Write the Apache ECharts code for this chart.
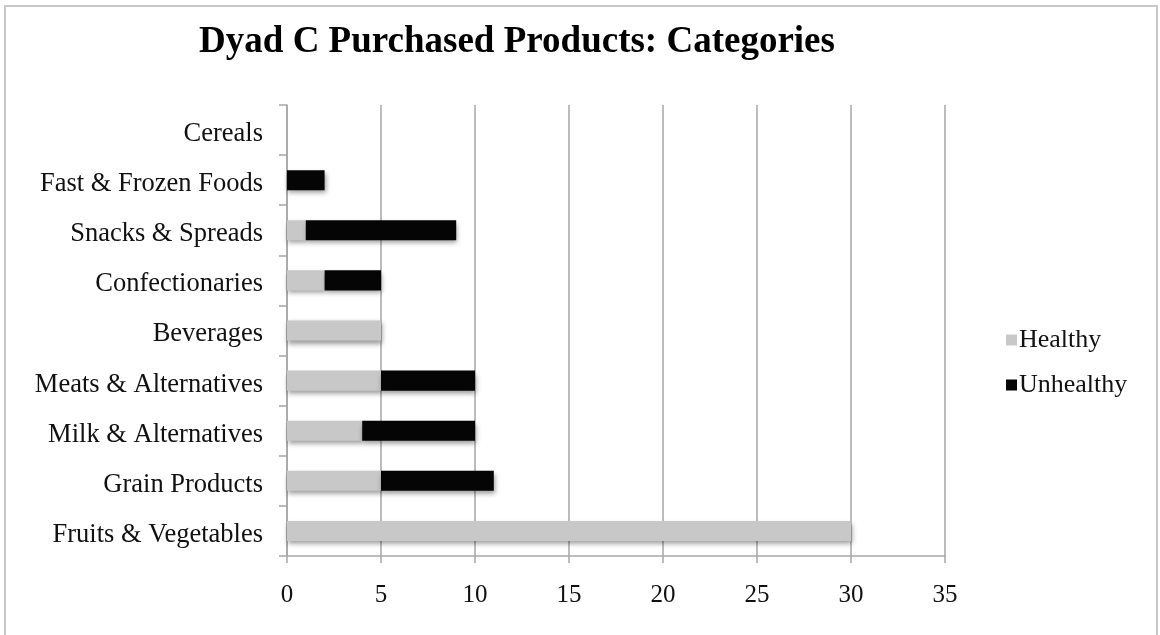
<!DOCTYPE html>
<html>
<head>
<meta charset="utf-8">
<script src="https://cdn.jsdelivr.net/npm/echarts@6/dist/echarts.min.js"></script>
<style>
  html, body { margin: 0; padding: 0; background: #fff; }
  #chart { width: 1160px; height: 635px; }
</style>
</head>
<body>
<div id="chart"></div>
<script>
// Product categories, listed bottom-to-top as they appear on the axis
const categories = [
  'Fruits & Vegetables', 'Grain Products', 'Milk & Alternatives',
  'Meats & Alternatives', 'Beverages', 'Confectionaries',
  'Snacks & Spreads', 'Fast & Frozen Foods', 'Cereals'
];
const healthy   = [30, 5, 4, 5, 5, 2, 1, 0, 0];
const unhealthy = [0, 6, 6, 5, 0, 3, 8, 2, 0];
const xTicks = [0, 5, 10, 15, 20, 25, 30, 35];

const serif = '"Liberation Serif", "DejaVu Serif", serif';
const shadow = {
  shadowBlur: 5, shadowOffsetX: 1, shadowOffsetY: 3,
  shadowColor: 'rgba(0,0,0,0.4)'
};

const chart = echarts.init(document.getElementById('chart'));
chart.setOption({
  animation: false,
  backgroundColor: '#fff',
  title: {
    text: 'Dyad C Purchased Products: Categories',
    left: 512, top: 19, textAlign: 'center',
    textStyle: { fontFamily: serif, fontSize: 37, fontWeight: 'bold', color: '#000' }
  },
  graphic: [{
    type: 'rect', silent: true,
    shape: { x: 5, y: 6, width: 1152, height: 640 },
    style: { fill: 'none', stroke: '#c8c8c8', lineWidth: 2 }
  }],
  legend: {
    orient: 'vertical', left: 1001, top: 322, itemGap: 19,
    itemWidth: 11, itemHeight: 11, icon: 'rect',
    textStyle: { fontFamily: serif, fontSize: 26, color: '#111', padding: [0, 0, 0, -3] },
    data: ['Healthy', 'Unhealthy']
  },
  grid: { left: 287, right: 215, top: 105, bottom: 79, containLabel: false },
  xAxis: {
    type: 'value', min: 0, max: 35, interval: 5,
    axisLine: { show: true, lineStyle: { color: '#a6a6a6', width: 1.5 } },
    axisTick: { show: true, length: 7, lineStyle: { color: '#a6a6a6', width: 1.5 } },
    splitLine: { show: true, lineStyle: { color: '#a6a6a6', width: 1.5 } },
    axisLabel: {
      fontFamily: serif, fontSize: 25, color: '#111', margin: 27,
      formatter: v => xTicks.includes(v) ? String(v) : ''
    }
  },
  yAxis: {
    type: 'category', data: categories,
    axisLine: { show: true, lineStyle: { color: '#a6a6a6', width: 1.5 } },
    axisTick: { show: true, length: 8, alignWithLabel: false, lineStyle: { color: '#a6a6a6', width: 1.5 } },
    axisLabel: {
      margin: 24,
      formatter: v => '{c|' + v + '}',
      rich: {
        c: { fontFamily: serif, fontSize: 26.5, color: '#111', padding: [8, 0, 0, 0] }
      }
    }
  },
  series: [
    {
      name: 'Healthy', type: 'bar', stack: 'total', data: healthy,
      barWidth: '40%',
      itemStyle: Object.assign({ color: '#c8c8c8' }, shadow)
    },
    {
      name: 'Unhealthy', type: 'bar', stack: 'total', data: unhealthy,
      barWidth: '40%',
      itemStyle: Object.assign({ color: '#050505' }, shadow)
    }
  ]
});
</script>
</body>
</html>
